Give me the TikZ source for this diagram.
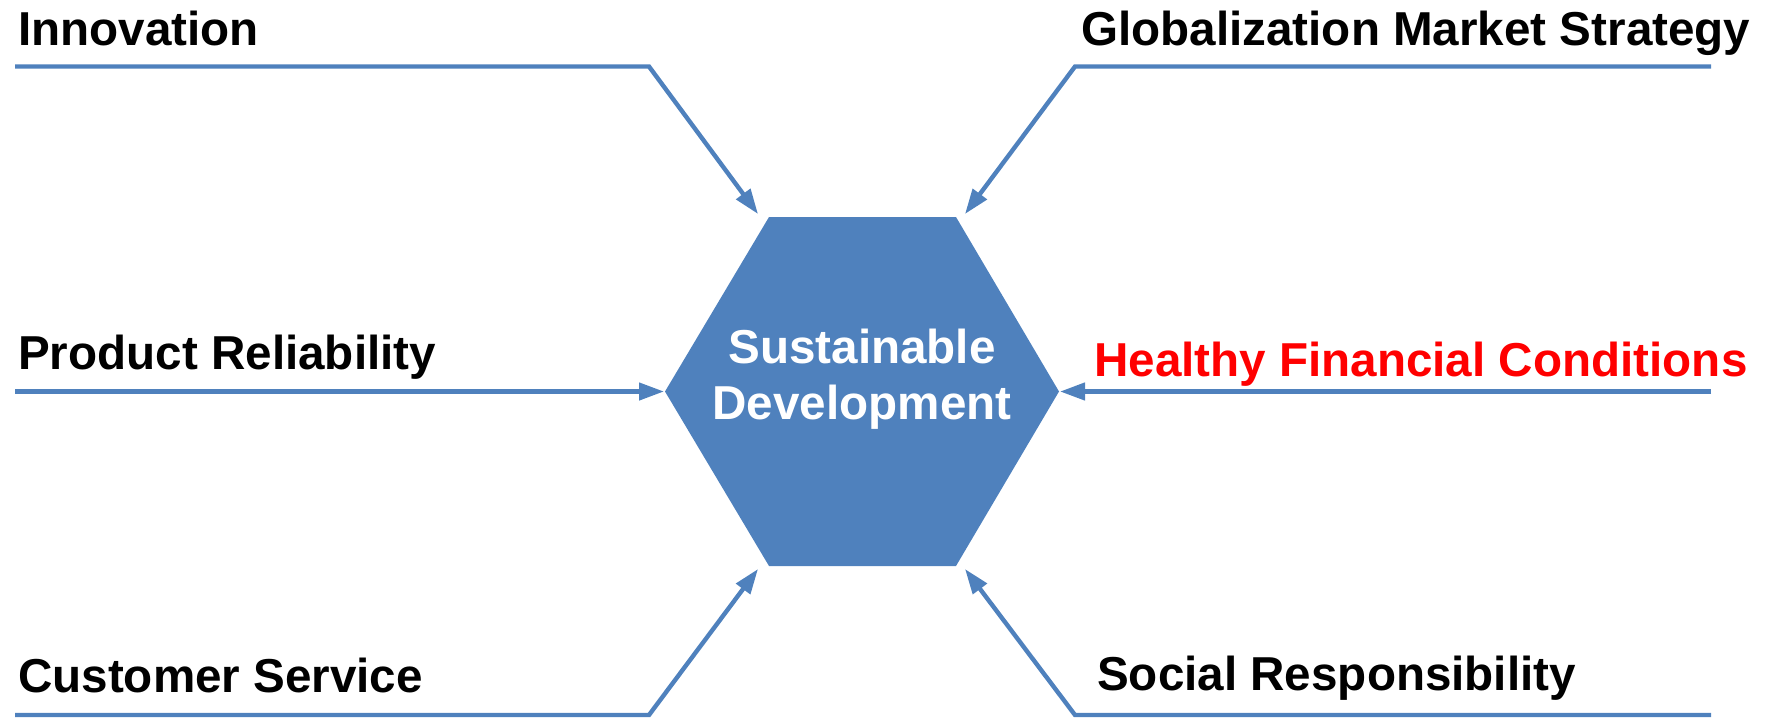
\documentclass[tikz,border=0pt]{standalone}
\usepackage{fontspec}
\setmainfont{Liberation Sans}
\usetikzlibrary{arrows.meta}
\definecolor{hexblue}{HTML}{4F81BD}
\definecolor{labred}{HTML}{FF0000}
\tikzset{
  conn/.style={draw=hexblue, line width=4.4pt, line join=miter, -{Triangle[length=25pt,width=17pt]}},
  lab/.style={anchor=base west, inner sep=0pt, font=\fontsize{47.6}{56}\selectfont\bfseries},
  hex/.style={fill=hexblue, draw=none},
  hextext/.style={align=center, text=white, inner sep=0pt, font=\fontsize{47.6}{56}\selectfont\bfseries}
}
\begin{document}
\begin{tikzpicture}[x=1pt,y=-1pt]
\useasboundingbox (0,0) rectangle (1769,718);
% hexagon
\coordinate (h1) at (769,217);
\coordinate (h2) at (956,217);
\coordinate (h3) at (1059,391.5);
\coordinate (h4) at (956,566);
\coordinate (h5) at (769,566);
\coordinate (h6) at (665,391.5);
\fill[hex] (h1) -- (h2) -- (h3) -- (h4) -- (h5) -- (h6) -- cycle;
\node[hextext] (sd) at (862,379) {Sustainable\\Development};
% arrow targets
\coordinate (tIn) at (758,214);
\coordinate (tGl) at (965,214);
\coordinate (tPr) at (664,391.5);
\coordinate (tHe) at (1060,391.5);
\coordinate (tCu) at (758,569);
\coordinate (tSo) at (965,569);
% line starts and bends
\coordinate (sIn) at (15,66.5);   \coordinate (bIn) at (649,66.5);
\coordinate (sGl) at (1711,66.5); \coordinate (bGl) at (1075,66.5);
\coordinate (sPr) at (15,391.5);
\coordinate (sHe) at (1711,391.5);
\coordinate (sCu) at (15,715);  \coordinate (bCu) at (649,715);
\coordinate (sSo) at (1711,715); \coordinate (bSo) at (1075,715);
% labels
\node[lab] (lIn) at (18,45) {Innovation};
\node[lab] (lGl) at (1081,45) {Globalization Market Strategy};
\node[lab] (lPr) at (18,369) {Product Reliability};
\node[lab, text=labred] (lHe) at (1094,376) {Healthy Financial Conditions};
\node[lab] (lCu) at (18,692) {Customer Service};
\node[lab] (lSo) at (1097,690) {Social Responsibility};
% connectors
\draw[conn] (sIn) -- (bIn) -- (tIn);
\draw[conn] (sGl) -- (bGl) -- (tGl);
\draw[conn] (sPr) -- (tPr);
\draw[conn] (sHe) -- (tHe);
\draw[conn] (sCu) -- (bCu) -- (tCu);
\draw[conn] (sSo) -- (bSo) -- (tSo);
\end{tikzpicture}
\end{document}
